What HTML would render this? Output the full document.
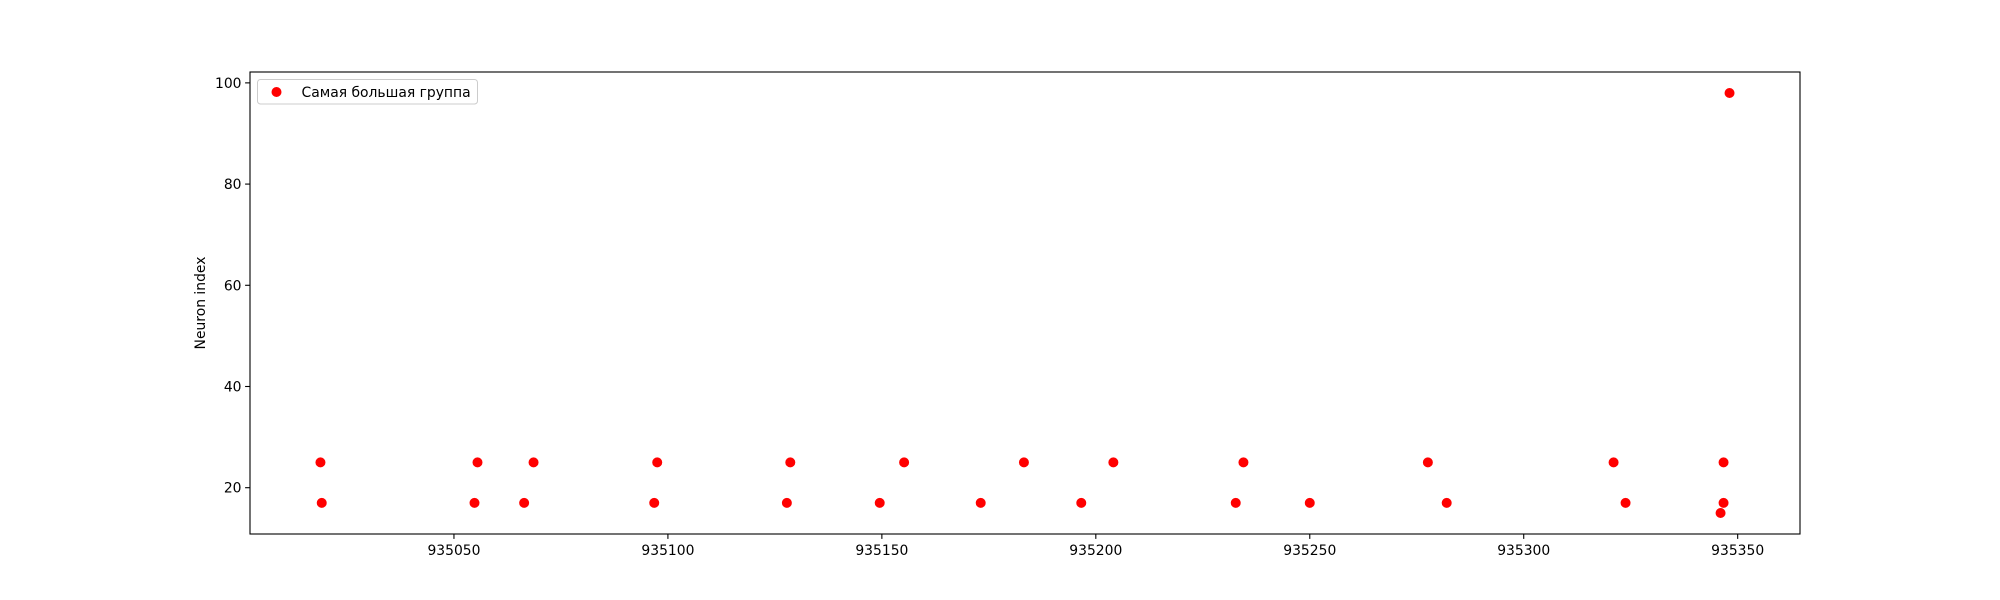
<!DOCTYPE html>
<html><head><meta charset="utf-8"><style>
body{margin:0;background:#fff}
svg{display:block;font-family:"DejaVu Sans","Liberation Sans",sans-serif}
</style></head><body>
<svg id="chart" width="2000" height="600" xmlns="http://www.w3.org/2000/svg">
<rect x="0" y="0" width="2000" height="600" fill="#fff"/>
<g id="plot"></g>
<rect x="250" y="72" width="1550" height="462" fill="none" stroke="#000" stroke-width="1.1"/>
<g id="xt"></g>
<g id="yt"></g>
<text x="205" y="303" font-size="13.9" text-anchor="middle" transform="rotate(-90 205 303)">Neuron index</text>
<g>
<rect x="257.5" y="79.5" width="220" height="24.5" rx="3" fill="#fff" fill-opacity="0.8" stroke="#ccc"/>
<circle cx="276.5" cy="92" r="5" fill="red"/>
<text x="301.5" y="96.8" font-size="13.9">Самая большая группа</text>
</g>
</svg>
<script>
const xValues=[935018.8,935019.1,935055.5,935054.8,935068.6,935066.4,935097.5,935096.8,935128.6,935127.8,935149.5,935155.2,935173.1,935183.2,935196.6,935204.1,935232.7,935234.5,935250.0,935277.6,935282.0,935321.0,935323.8,935346.7,935346.7,935346.0,935348.1];
const yValues=[25,17,25,17,25,17,25,17,25,17,17,25,17,25,17,25,17,25,17,25,17,25,17,25,17,15,98];
const xTicks=[935050,935100,935150,935200,935250,935300,935350];
const yTicks=[20,40,60,80,100];
const L=250,R=1800,T=72,B=534;
const xmin=Math.min(...xValues),xmax=Math.max(...xValues),ymin=Math.min(...yValues),ymax=Math.max(...yValues);
const x0=xmin-(xmax-xmin)*0.05,x1=xmax+(xmax-xmin)*0.05;
const y0=ymin-(ymax-ymin)*0.05,y1=ymax+(ymax-ymin)*0.05;
const sx=v=>L+(v-x0)/(x1-x0)*(R-L);
const sy=v=>B-(v-y0)/(y1-y0)*(B-T);
const NS="http://www.w3.org/2000/svg";
const plot=document.getElementById('plot'),xt=document.getElementById('xt'),yt=document.getElementById('yt');
function mk(t,a,p){const e=document.createElementNS(NS,t);for(const k in a)e.setAttribute(k,a[k]);p.appendChild(e);return e;}
xValues.forEach((v,i)=>{
 const c=mk('circle',{cx:sx(v),cy:sy(yValues[i]),r:5,fill:'red'},plot);
 
 
});
xTicks.forEach(v=>{
 const x=sx(v);
 const l=mk('line',{x1:x,x2:x,y1:B,y2:B+4.9,stroke:'#000','stroke-width':1.1},xt);
 
 
 const t=mk('text',{x:x,y:B+21,'font-size':13.9,'text-anchor':'middle'},xt);
 t.textContent=v;
 
 
});
yTicks.forEach(v=>{
 const y=sy(v);
 const l=mk('line',{x1:L-4.9,x2:L,y1:y,y2:y,stroke:'#000','stroke-width':1.1},yt);
 
 
 const t=mk('text',{x:L-8.5,y:y+5,'font-size':13.9,'text-anchor':'end'},yt);
 t.textContent=v;
 
 
});
</script>
</body></html>
